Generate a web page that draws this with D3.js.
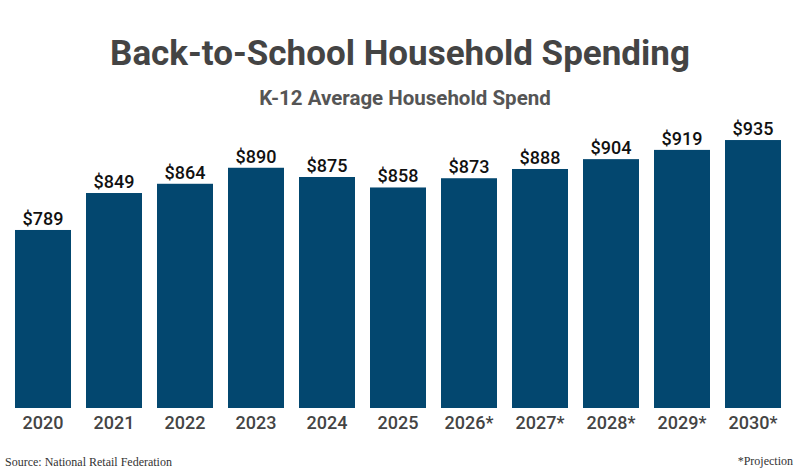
<!DOCTYPE html>
<html>
<head>
<meta charset="utf-8">
<script src="https://cdn.jsdelivr.net/npm/d3@7"></script>
<style>
  body { margin: 0; background: #fff; }
  svg { display: block; }
</style>
</head>
<body>
<svg id="chart" width="800" height="475"></svg>
<script>
// data
const years = ["2020", "2021", "2022", "2023", "2024", "2025", "2026*", "2027*", "2028*", "2029*", "2030*"];
const spend = [789, 849, 864, 890, 875, 858, 873, 888, 904, 919, 935];

const width = 800, height = 475;
const svg = d3.select("#chart");

const x = d3.scaleBand()
  .domain(years)
  .range([7.5, 788.5])
  .paddingInner(0.2113)
  .paddingOuter(0.1056);

const y = d3.scaleLinear()
  .domain([500, 1000])
  .range([408, 100]);

// title + subtitle
svg.append("text")
  .attr("x", width / 2)
  .attr("y", 65)
  .attr("text-anchor", "middle")
  .style("font-family", "Roboto")
  .style("font-weight", "700")
  .style("font-size", "35px")
  .attr("fill", "#444")
  .text("Back-to-School Household Spending");

svg.append("text")
  .attr("x", 405)
  .attr("y", 105)
  .attr("text-anchor", "middle")
  .style("font-family", "Roboto")
  .style("font-weight", "700")
  .style("font-size", "20.5px")
  .attr("fill", "#555")
  .text("K-12 Average Household Spend");

const rows = years.map((yr, i) => ({ year: yr, value: spend[i] }));

// bars
svg.append("g")
  .selectAll("rect")
  .data(rows)
  .join("rect")
  .attr("x", d => x(d.year))
  .attr("y", d => y(d.value))
  .attr("width", x.bandwidth())
  .attr("height", d => y(500) - y(d.value))
  .attr("fill", "#03476f");

// value labels
svg.append("g")
  .selectAll("text")
  .data(rows)
  .join("text")
  .attr("x", d => x(d.year) + x.bandwidth() / 2)
  .attr("y", d => y(d.value) - 5)
  .attr("text-anchor", "middle")
  .style("font-family", "Roboto")
  .style("font-weight", "500")
  .style("font-size", "18px")
  .attr("fill", "#111")
  .text(d => "$" + d.value);

// x axis (labels only)
const xAxis = svg.append("g")
  .attr("transform", "translate(0,408)")
  .call(d3.axisBottom(x).tickSize(0).tickPadding(8));
xAxis.select(".domain").remove();
xAxis.selectAll("text")
  .style("font-family", "Roboto")
  .style("font-weight", "500")
  .style("font-size", "18px")
  .attr("fill", "#444");

// footer
svg.append("text")
  .attr("x", 5)
  .attr("y", 466)
  .style("font-family", "Liberation Serif")
  .style("font-size", "12px")
  .attr("fill", "#333")
  .text("Source: National Retail Federation");

svg.append("text")
  .attr("x", 793)
  .attr("y", 465)
  .attr("text-anchor", "end")
  .style("font-family", "Liberation Serif")
  .style("font-size", "12px")
  .attr("fill", "#333")
  .text("*Projection");
</script>
</body>
</html>
